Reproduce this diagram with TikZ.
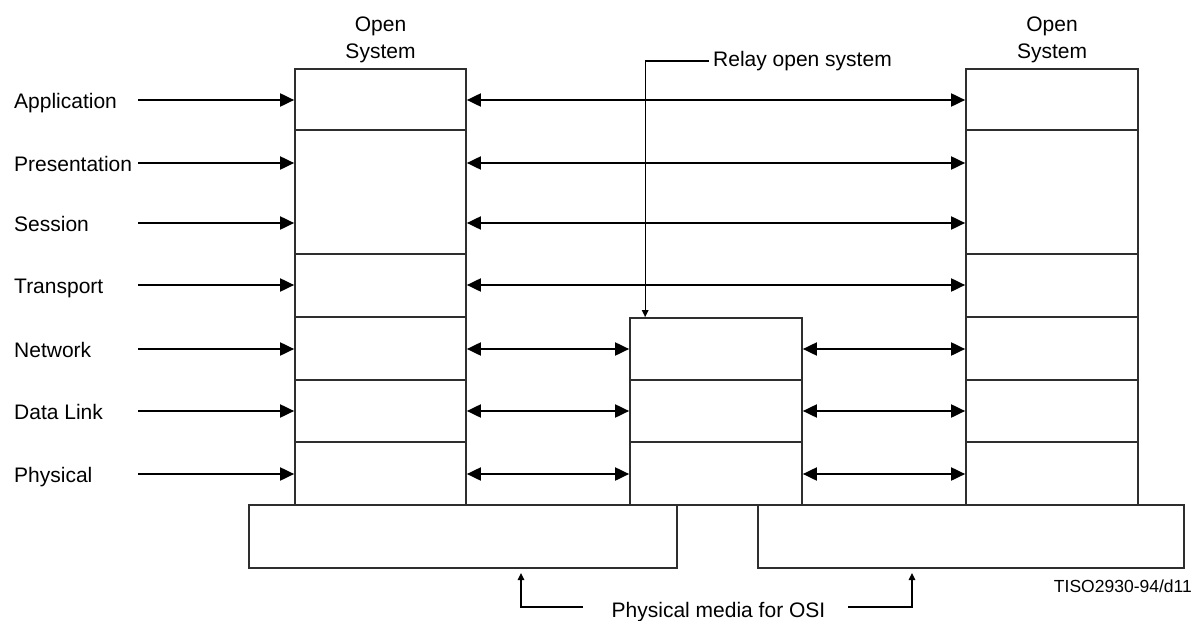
\documentclass[tikz,border=0pt]{standalone}
\usepackage{fontspec}
\setmainfont{Liberation Sans}
\usetikzlibrary{arrows.meta}

\definecolor{boxline}{HTML}{2E2E2E}

\tikzset{
  cell/.style={draw=boxline, line width=1.7pt, inner sep=0pt, minimum width=#1},
  lbl/.style={inner sep=0pt, font=\fontsize{21}{27}\selectfont},
  small/.style={inner sep=0pt, font=\fontsize{17.5}{21}\selectfont},
  bighead/.tip={Triangle[length=14pt,width=13pt]},
  flow/.style={line width=1.9pt, -bighead},
  peer/.style={line width=1.9pt, bighead-bighead},
  pointer/.style={line width=1.3pt, -{Triangle[length=7pt,width=6.5pt]}},
}

\begin{document}
\begin{tikzpicture}[x=1pt, y=-1pt]
\useasboundingbox (0,0) rectangle (1200,621);

% --- left end system: seven layers (presentation and session share one cell)
\node[cell=171, minimum height=61]  (LA)  at (380.5, 99.5) {};
\node[cell=171, minimum height=124] (LPS) at (380.5, 192) {};
\node[cell=171, minimum height=63]  (LT)  at (380.5, 285.5) {};
\node[cell=171, minimum height=63]  (LN)  at (380.5, 348.5) {};
\node[cell=171, minimum height=62]  (LD)  at (380.5, 411) {};
\node[cell=171, minimum height=63]  (LPh) at (380.5, 473.5) {};

% --- right end system
\node[cell=172, minimum height=61]  (RA)  at (1052, 99.5) {};
\node[cell=172, minimum height=124] (RPS) at (1052, 192) {};
\node[cell=172, minimum height=63]  (RT)  at (1052, 285.5) {};
\node[cell=172, minimum height=63]  (RN)  at (1052, 348.5) {};
\node[cell=172, minimum height=62]  (RD)  at (1052, 411) {};
\node[cell=172, minimum height=63]  (RPh) at (1052, 473.5) {};

% --- relay system: lower three layers only
\node[cell=172, minimum height=62]  (MN)  at (716, 349) {};
\node[cell=172, minimum height=62]  (MD)  at (716, 411) {};
\node[cell=172, minimum height=63]  (MPh) at (716, 473.5) {};

% --- physical media
\node[cell=428, minimum height=63]  (BL)  at (463, 536.5) {};
\node[cell=426, minimum height=63]  (BR)  at (971, 536.5) {};

% --- headings
\node[lbl, align=center, anchor=north] (hl) at (380.5, 17) {Open\\System};
\node[lbl, align=center, anchor=north] (hr) at (1052, 17) {Open\\System};

% --- layer names and their arrows into the left system
\foreach \name/\txt/\y/\cellname in {
  a/Application/100/LA, p/Presentation/163/LPS, s/Session/223/LPS,
  t/Transport/285/LT, n/Network/349/LN, d/Data Link/411/LD, h/Physical/474/LPh} {
  \node[lbl, anchor=base west] (t\name) at (14, \y+8) {\txt};
  \coordinate (c\name) at (138, \y);
  \draw[flow] (c\name) -- (c\name -| \cellname.west);
}

% --- peer protocols between end systems (upper layers)
\draw[peer] (ca -| LA.east)  -- (ca -| RA.west);
\draw[peer] (cp -| LPS.east) -- (cp -| RPS.west);
\draw[peer] (cs -| LPS.east) -- (cs -| RPS.west);
\draw[peer] (ct -| LT.east)  -- (ct -| RT.west);

% --- peer protocols through the relay (lower layers)
\draw[peer] (cn -| LN.east)  -- (cn -| MN.west);
\draw[peer] (cn -| MN.east)  -- (cn -| RN.west);
\draw[peer] (cd -| LD.east)  -- (cd -| MD.west);
\draw[peer] (cd -| MD.east)  -- (cd -| RD.west);
\draw[peer] (ch -| LPh.east) -- (ch -| MPh.west);
\draw[peer] (ch -| MPh.east) -- (ch -| RPh.west);

% --- relay label
\node[lbl, anchor=west, inner xsep=4pt] (relay) at (709, 61) {Relay open system};
\draw[pointer] (relay.west) -| ([xshift=16pt]MN.north west);

% --- physical media label
\node[lbl, anchor=base] (media) at (718.5, 617) {Physical media for OSI};
\coordinate (mL) at (583, 607);
\coordinate (mR) at (848, 607);
\coordinate (tipL) at (521, 573);
\coordinate (tipR) at (912, 573);
\draw[pointer] (mL) -| (tipL);
\draw[pointer] (mR) -| (tipR);

% --- figure reference
\node[small, anchor=base east] (ref) at (1192, 592) {TISO2930-94/d11};
\end{tikzpicture}
\end{document}
